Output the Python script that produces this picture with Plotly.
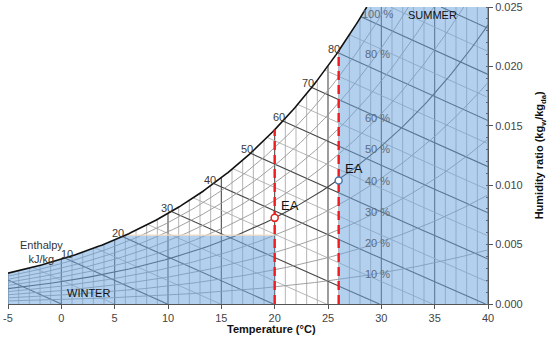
import numpy as np
import plotly.graph_objects as go

# ---------------- data ----------------
P_ATM = 101.325  # kPa
temp_range = [-5, 40]
w_range = [0.0, 0.025]
x_ticks = [-5, 0, 5, 10, 15, 20, 25, 30, 35, 40]
y_ticks = [0.000, 0.005, 0.010, 0.015, 0.020, 0.025]
db_grid = list(range(-5, 41))                 # dry-bulb grid lines (°C)
enthalpy_levels = list(range(0, 105, 5))      # kJ/kg
enthalpy_labels = [10, 20, 30, 40, 50, 60, 70, 80]
rh_levels = [10, 20, 30, 40, 50, 60, 70, 80, 90]  # %
rh_labels = [100, 80, 60, 50, 40, 30, 20, 10]
winter_T = [-5, 20]
winter_w_top = 0.0058
summer_T = [26, 40]
ea_T = [20, 26]
ea_W = [0.00725, 0.0104]
ea_colors = ["#e8201c", "#4a78ad"]


def psat(t):
    return 0.61094 * np.exp(17.625 * t / (t + 243.04))


def w_rh(t, rh):
    pv = rh * psat(t)
    return 0.622 * pv / (P_ATM - pv)


def w_sat(t):
    return w_rh(t, 1.0)


def w_h(t, h):
    return (h - 1.006 * t) / (2501 + 1.86 * t)


def bisect(f, a, b, n=60):
    fa = f(a)
    for _ in range(n):
        m = 0.5 * (a + b)
        fm = f(m)
        if (fm > 0) == (fa > 0):
            a, fa = m, fm
        else:
            b = m
    return 0.5 * (a + b)


WMAX = w_range[1]
T_top = bisect(lambda t: w_sat(t) - WMAX, 0, 40)


def w_cap(t):
    return min(w_sat(t), WMAX)


fig = go.Figure()

# ---------------- grid: dry-bulb verticals ----------------
for dark in (False, True):
    xs, ys = [], []
    for t in db_grid:
        if (t % 5 == 0) != dark:
            continue
        xs += [t, t, None]
        ys += [0, w_cap(t), None]
    fig.add_trace(go.Scatter(x=xs, y=ys, mode="lines", hoverinfo="skip", showlegend=False,
                             line=dict(color="#4c4c4c" if dark else "#adadad",
                                       width=1.1 if dark else 0.9)))

# ---------------- enthalpy lines ----------------
for dark in (False, True):
    xs, ys = [], []
    for h in enthalpy_levels:
        if (h % 10 == 0) != dark:
            continue
        if w_h(-5, h) <= w_cap(-5):
            t0 = -5.0
        else:
            t0 = bisect(lambda t: w_h(t, h) - w_cap(t), -5, 40)
        t1 = min(h / 1.006, 40.0)
        ts = np.linspace(t0, t1, 30)
        xs += list(ts) + [None]
        ys += [max(w_h(t, h), 0) for t in ts] + [None]
    fig.add_trace(go.Scatter(x=xs, y=ys, mode="lines", hoverinfo="skip", showlegend=False,
                             line=dict(color="#464646" if dark else "#adadad",
                                       width=1.1 if dark else 0.9)))

# ---------------- RH curves ----------------
for rh in rh_levels:
    r = rh / 100.0
    t_end = min(40.0, bisect(lambda t: w_rh(t, r) - WMAX, -5, 80))
    ts = np.linspace(-5, t_end, 120)
    dark = rh == 50
    fig.add_trace(go.Scatter(x=ts, y=w_rh(ts, r), mode="lines", hoverinfo="skip", showlegend=False,
                             line=dict(color="#464646" if dark else "#969696",
                                       width=1.1 if dark else 0.9)))

# ---------------- zones ----------------
fill_col = "rgba(110,165,225,0.52)"
t_w = bisect(lambda t: w_sat(t) - winter_w_top, -5, 20)
ts = np.linspace(winter_T[0], t_w, 60)
wx = [winter_T[0], winter_T[1], winter_T[1], t_w] + list(ts[::-1])
wy = [0, 0, winter_w_top, winter_w_top] + list(w_sat(ts[::-1]))
fig.add_trace(go.Scatter(x=wx, y=wy, fill="toself", fillcolor=fill_col, mode="lines",
                         line=dict(width=0), hoverinfo="skip", showlegend=False))
fig.add_trace(go.Scatter(x=[t_w, winter_T[1]], y=[winter_w_top, winter_w_top], mode="lines",
                         line=dict(color="#f6dcc6", width=1.2), hoverinfo="skip", showlegend=False))

ts = np.linspace(summer_T[0], T_top, 60)
sx = [summer_T[0], summer_T[1], summer_T[1], T_top] + list(ts[::-1])
sy = [0, 0, WMAX, WMAX] + list(w_sat(ts[::-1]))
fig.add_trace(go.Scatter(x=sx, y=sy, fill="toself", fillcolor=fill_col, mode="lines",
                         line=dict(width=0), hoverinfo="skip", showlegend=False))

# ---------------- saturation curve ----------------
ts = np.linspace(-5, T_top, 200)
fig.add_trace(go.Scatter(x=ts, y=w_sat(ts), mode="lines", hoverinfo="skip", showlegend=False,
                         line=dict(color="#111111", width=1.6)))

# ---------------- red dashed lines ----------------
for t in ea_T:
    fig.add_trace(go.Scatter(x=[t, t], y=[0, w_sat(t)], mode="lines", hoverinfo="skip",
                             showlegend=False,
                             line=dict(color="#ee1c1c", width=2.4, dash="9px,5px")))

# ---------------- EA points ----------------
for t, w, c in zip(ea_T, ea_W, ea_colors):
    fig.add_trace(go.Scatter(x=[t], y=[w], mode="markers", hoverinfo="skip", showlegend=False,
                             marker=dict(size=7, color="white", line=dict(color=c, width=1.5))))
    fig.add_annotation(x=t, y=w, text="EA", showarrow=False, xanchor="left", yanchor="middle",
                       xshift=4, yshift=12, font=dict(size=13, color="#111", family="Liberation Sans"))

# ---------------- labels ----------------
for h in enthalpy_labels:
    t = bisect(lambda t: w_h(t, h) - w_sat(t), -5, 40)
    fig.add_annotation(x=t, y=w_sat(t), text=str(h), showarrow=False, xanchor="center",
                       yanchor="middle", xshift=2 if h == 10 else -4, yshift=4,
                       font=dict(size=11, color="#3a3a3a", family="Liberation Sans"))

T_LBL = 29.65
for rh in rh_labels:
    w = min(w_rh(T_LBL, rh / 100.0), 0.02445)
    fig.add_annotation(x=T_LBL, y=w, text=f"{rh} %", showarrow=False, xanchor="center",
                       yanchor="middle", font=dict(size=11, color="#5b6b80", family="Liberation Sans"))

fig.add_annotation(x=34.8, y=0.0243, text="SUMMER", showarrow=False,
                   font=dict(size=11, color="#111", family="Liberation Sans"))
fig.add_annotation(x=2.5, y=0.00092, text="WINTER", showarrow=False,
                   font=dict(size=11, color="#111", family="Liberation Sans"))
fig.add_annotation(x=-1.9, y=0.00437, text="Enthalpy<br>kJ/kg", showarrow=False,
                   font=dict(size=11, color="#333", family="Liberation Sans"))

fig.add_annotation(xref="paper", yref="paper", x=0.548, y=-0.085, text="<b>Temperature (°C)</b>",
                   showarrow=False, yanchor="middle",
                   font=dict(size=11, color="#111", family="Liberation Sans"))
fig.add_annotation(xref="paper", yref="paper", x=1.108, y=0.5, textangle=-90,
                   text="<b>Humidity ratio (kg<sub>w</sub>/kg<sub>da</sub>)</b>",
                   showarrow=False, xanchor="center", yanchor="middle",
                   font=dict(size=11, color="#111", family="Liberation Sans"))

fig.update_layout(
    width=550, height=338,
    margin=dict(l=8, r=62, t=7, b=34, autoexpand=False),
    paper_bgcolor="white", plot_bgcolor="white",
    xaxis=dict(range=temp_range, tickvals=x_ticks, ticktext=[str(v) for v in x_ticks],
               showgrid=False, zeroline=False, showline=True, linecolor="#555", linewidth=1,
               ticks="outside", ticklen=4, tickcolor="#555", automargin=False,
               tickfont=dict(size=11, color="#444", family="Liberation Sans")),
    yaxis=dict(range=w_range, tickvals=y_ticks, ticktext=[f"{v:.3f}" for v in y_ticks],
               side="right", showgrid=False, zeroline=False, showline=True, linecolor="#555",
               linewidth=1, ticks="outside", ticklen=4, tickcolor="#555", automargin=False,
               minor=dict(dtick=0.001, ticks="inside", ticklen=2, tickcolor="#667"),
               tickfont=dict(size=11, color="#444", family="Liberation Sans")),
)

fig.write_html("out.html", config={"displayModeBar": False},
               post_script="document.body.style.margin='0px';document.body.style.overflow='hidden';")
